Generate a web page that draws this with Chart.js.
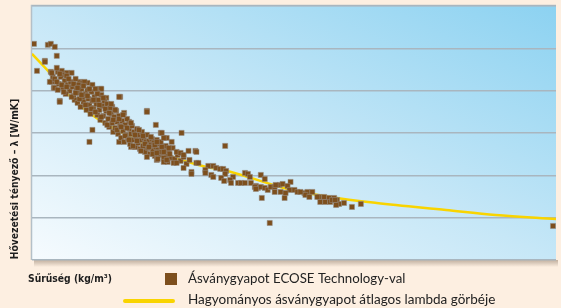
<!DOCTYPE html>
<html>
<head>
<meta charset="utf-8">
<script src="https://cdn.jsdelivr.net/npm/chart.js@4.4.1/dist/chart.umd.min.js"></script>
<style>
  html, body { margin: 0; padding: 0; background: #fdefe1; }
  #wrap { width: 561px; height: 308px; }
</style>
</head>
<body>
<div id="wrap"><canvas id="chart" width="561" height="308"></canvas></div>
<script>
// ECOSE measurements [density, lambda] (arbitrary units, no tick labels in source)
const ecosePoints = [
  // sparse points
  [2,216],[16,215],[19,216],[23,213],[25,204],[13,199],[5,189],[19,188],[26,188],[30,189],
  [35,187],[21,183],[20,178],[22,172],[69,171],[28,159],[89,163],[116,149],[125,135],[151,127],
  [58,118],[130,127],[13,198],[25,192],[20,187],[31,185],[40,187],[18,178],[23,172],[28,158],
  [48,178],[51,177],[56,177],[61,175],[70,171],[88,163],[66,167],[75,162],[73,158],[81,153],
  [83,150],[93,147],[116,148],[98,138],[61,130],[131,127],[136,122],[126,120],[88,118],[100,113],
  [105,113],[115,110],[121,112],[126,108],[130,110],
  // dense band
  [23,181],[27,176],[29,183],[31,172],[33,179],[26,170],[35,184],[36,175],[38,169],[34,166],
  [39,178],[41,173],[42,164],[44,181],[45,170],[43,160],[47,175],[48,167],[46,157],[50,171],
  [51,162],[49,153],[53,178],[54,166],[52,158],[56,170],[57,161],[55,150],[58,155],[60,168],
  [61,159],[59,146],[63,163],[62,152],[64,171],[65,156],[66,145],[67,160],[68,150],[69,140],
  [70,165],[71,154],[72,144],[73,159],[74,137],[75,149],[76,156],[77,141],[78,133],[79,152],
  [80,146],[81,137],[82,128],[83,143],[84,132],[85,149],[86,138],[87,126],[88,144],[89,134],
  [90,122],[91,139],[92,129],[93,118],[94,135],[95,125],[96,141],[97,121],[98,131],[99,116],
  [100,126],[101,134],[102,120],[103,128],[104,113],[105,123],[106,131],[107,117],[108,125],[109,111],
  [110,120],[111,128],[112,114],[113,122],[114,108],[115,118],[116,125],[117,112],[118,119],[119,106],
  [120,115],[121,121],[122,109],[123,117],[124,104],[125,113],[127,110],[128,116],[129,105],[131,113],
  [132,107],[134,111],[136,104],[138,109],[140,102],
  [25,178],[28,186],[30,175],[32,168],[35,173],[37,181],[40,163],[42,176],[44,167],[46,172],
  [48,161],[50,165],[52,174],[54,155],[56,164],[58,171],[60,151],[62,160],[64,148],[66,166],
  [68,155],[70,143],[72,162],[74,151],[76,135],[78,147],[80,156],[82,140],[84,150],[86,130],
  [88,141],[90,133],[92,145],[94,124],[96,132],[98,120],[100,137],[102,114],[104,125],[106,119],
  [108,130],[110,109],[112,124],[114,116],[116,103],[118,113],[120,123],[122,106],[124,115],[126,100],
  [128,108],[130,118],[133,102],[135,114],[137,98],[139,106],[142,112],[144,101],[147,105],[150,99],
  [153,103],[156,96],[159,100],
  // tail
  [133,122],[126,118],[141,118],[131,113],[138,112],[126,107],[133,108],[146,108],[150,107],[153,105],
  [158,109],[165,109],[166,108],[195,114],[127,101],[133,98],[136,100],[143,97],[146,97],[166,97],
  [153,92],[161,88],[161,86],[168,97],
  [178,94],[183,94],[186,92],[190,91],[193,91],[196,89],[175,90],[175,87],[195,86],[181,85],
  [183,83],[191,82],[194,79],[203,83],[200,80],[201,77],[208,77],[215,87],[218,86],[220,83],
  [231,85],[235,81],[211,77],[215,77],[221,77],[226,74],[228,72],[231,73],[235,72],[238,70],
  [241,73],[245,73],[250,75],[253,76],[261,78],[245,68],[251,68],[258,74],[260,70],[256,67],
  [265,70],[268,68],[275,67],[278,68],[283,68],[276,65],[280,63],[290,63],[295,63],[300,62],
  [305,62],[308,60],[291,58],[296,58],[301,58],[310,56],[315,57],[307,55],[323,53],[332,56],
  [232,62],[255,62],[240,37],[526,34],[225,73],[226,71],[246,75],[271,68],[288,63],[303,60],
  [306,60]
];

// average lambda curve of traditional mineral wool
const curveDensity = [0, 18, 38, 58, 78, 106, 131, 168, 201, 258, 301, 348, 418, 468, 529];
const curveLambda = [206, 187, 164, 147, 134, 120, 107, 95, 88, 71, 63, 57, 50, 45, 41];

const yStep = 42.3;
const yMax = 253.8;
const xMax = 529;

const yTitle = 'Hővezetési tényező – λ [W/mK]';
const xTitle = 'Sűrűség (kg/m³)';
const legendLabels = ['Ásványgyapot ECOSE Technology-val', 'Hagyományos ásványgyapot átlagos lambda görbéje'];

const brown = '#7d4f1d';
const yellow = '#f9d400';

function fitFont(ctx, text, weight, family, width) {
  let size = 16;
  do {
    ctx.font = weight + ' ' + size + 'px ' + family;
    size -= 0.25;
  } while (ctx.measureText(text).width > width && size > 6);
}

const backdrop = {
  id: 'backdrop',
  beforeDraw(chart) {
    const { ctx, chartArea: a } = chart;
    const w = a.right - a.left, h = a.bottom - a.top;
    ctx.save();
    // shadow under plot area
    const sh = ctx.createLinearGradient(0, a.bottom, 0, a.bottom + 7);
    sh.addColorStop(0, 'rgba(120,100,80,0.45)');
    sh.addColorStop(1, 'rgba(120,100,80,0)');
    ctx.fillStyle = sh;
    ctx.fillRect(a.left + 2, a.bottom, w, 7);

    // diagonal gradient: top-left and bottom-right share the same tint
    const k = (w * w + h * h) / (h * h + w * w) * (2 * w * h) / (h * h + w * w);
    const g = ctx.createLinearGradient(a.left, a.bottom, a.left + h * k, a.bottom - w * k);
    g.addColorStop(0, '#f6fbfe');
    g.addColorStop(0.5, '#c6e7f7');
    g.addColorStop(1, '#8cd2f1');
    ctx.fillStyle = g;
    ctx.fillRect(a.left, a.top, w, h);

    ctx.strokeStyle = '#b4c0c8';
    ctx.lineWidth = 1.5;
    ctx.beginPath();
    ctx.moveTo(a.left - 0.5, a.bottom);
    ctx.lineTo(a.left - 0.5, a.top - 0.5);
    ctx.lineTo(a.right, a.top - 0.5);
    ctx.stroke();
    ctx.restore();
  },
  afterDraw(chart) {
    const { ctx } = chart;
    ctx.save();
    ctx.fillStyle = '#1e1e1e';
    ctx.textBaseline = 'middle';

    // y title
    ctx.save();
    ctx.translate(15, 179);
    ctx.rotate(-Math.PI / 2);
    fitFont(ctx, yTitle, 'bold', '"DejaVu Sans Condensed", "DejaVu Sans"', 162);
    ctx.textAlign = 'center';
    ctx.fillText(yTitle, 0, 0);
    ctx.restore();

    // x title
    fitFont(ctx, xTitle, 'bold', '"DejaVu Sans Condensed", "DejaVu Sans"', 85);
    ctx.textAlign = 'left';
    ctx.fillText(xTitle, 28, 279);

    // legend
    ctx.fillStyle = brown;
    ctx.fillRect(165, 273, 12, 12);
    ctx.strokeStyle = yellow;
    ctx.lineWidth = 4;
    ctx.lineCap = 'round';
    ctx.beginPath();
    ctx.moveTo(125, 301);
    ctx.lineTo(173, 301);
    ctx.stroke();

    ctx.fillStyle = '#222';
    fitFont(ctx, legendLabels[0], 'normal', 'Lato', 219);
    ctx.fillText(legendLabels[0], 188, 279);
    fitFont(ctx, legendLabels[1], 'normal', 'Lato', 310);
    ctx.fillText(legendLabels[1], 188, 300);
    ctx.restore();
  }
};

new Chart(document.getElementById('chart'), {
  type: 'scatter',
  data: {
    datasets: [{
      label: legendLabels[0],
      data: ecosePoints.map(([x, y]) => ({ x, y })),
      pointStyle: 'rect',
      pointRadius: 3.6,
      backgroundColor: brown,
      borderColor: 'rgba(150,140,130,0.5)',
      borderWidth: 1,
      order: 0
    }, {
      type: 'line',
      label: legendLabels[1],
      data: curveDensity.map((x, i) => ({ x, y: curveLambda[i] })),
      borderColor: yellow,
      borderWidth: 2.5,
      pointRadius: 0,
      fill: false,
      tension: 0.4,
      cubicInterpolationMode: 'monotone',
      order: 1
    }]
  },
  options: {
    responsive: false,
    animation: false,
    devicePixelRatio: 1,
    layout: { padding: { left: 32, top: 6, right: 0, bottom: 48 } },
    scales: {
      x: {
        type: 'linear',
        min: 0,
        max: xMax,
        ticks: { display: false },
        grid: { display: false, drawTicks: false },
        border: { display: false }
      },
      y: {
        min: 0,
        max: yMax,
        ticks: { display: false, stepSize: yStep },
        grid: { color: '#a9b6bf', lineWidth: 1.5, drawTicks: false },
        border: { display: false }
      }
    },
    plugins: {
      legend: { display: false },
      tooltip: { enabled: false }
    }
  },
  plugins: [backdrop]
});
</script>
</body>
</html>
